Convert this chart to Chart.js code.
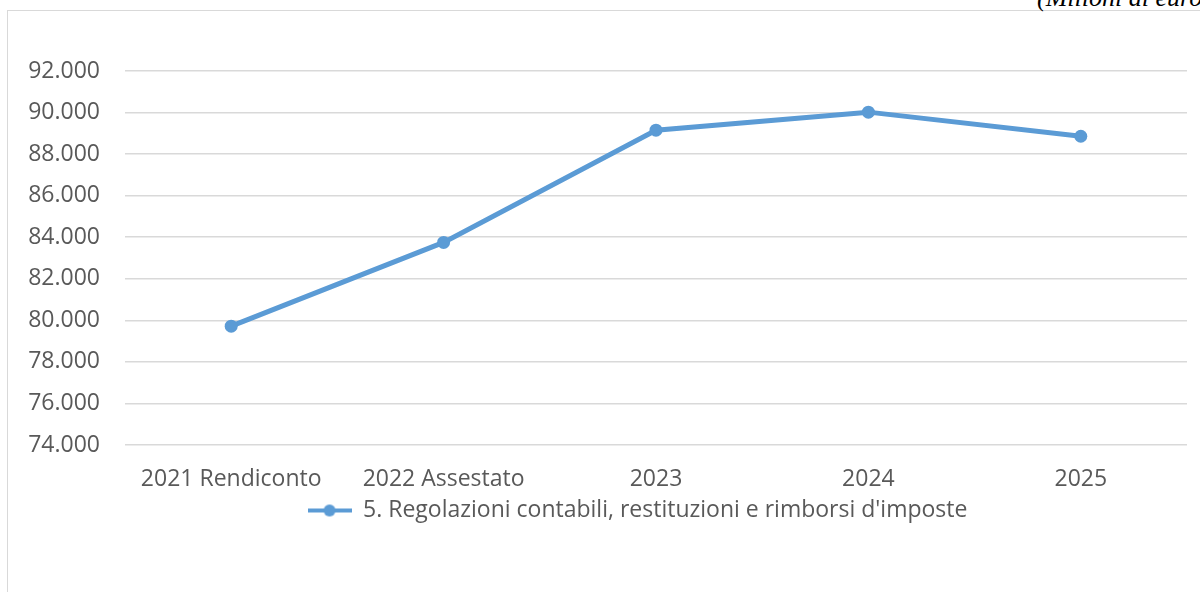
<!DOCTYPE html>
<html>
<head>
<meta charset="utf-8">
<script src="https://cdn.jsdelivr.net/npm/chart.js@4"></script>
<style>
  body { margin: 0; background: #fff; overflow: hidden; }
  #wrap { position: relative; width: 1200px; height: 592px; overflow: hidden; }
  .frame { position: absolute; left: 7px; top: 10px; width: 1300px; height: 700px; border: 1px solid #d9d9d9; }
  .unit { position: absolute; left: 1037px; top: -15px; font: italic 26px/26px "Liberation Serif", serif; color: #000; white-space: nowrap; }
  canvas { position: absolute; left: 0; top: 0; }
</style>
</head>
<body>
<div id="wrap">
  <div class="frame"></div>
  <div class="unit">(Milioni di euro)</div>
  <canvas id="myLinea" width="1200" height="592"></canvas>
</div>
<script>
const categorie = ["2021 Rendiconto", "2022 Assestato", "2023", "2024", "2025"];
const valori = [79720, 83750, 89150, 90020, 88860];
const serieNome = "5. Regolazioni contabili, restituzioni e rimborsi d'imposte";
const yMin = 74000;
const yMax = 92000;
const yStep = 2000;

const blu = "#5B9BD5";
const grigio = "#595959";
const fontBase = "'Open Sans', 'Noto Sans', sans-serif";

/* icona legenda: linea con pallino */
const icona = document.createElement("canvas");
icona.width = 44;
icona.height = 14;
const ic = icona.getContext("2d");
ic.fillStyle = blu;
ic.fillRect(0, 5, 44, 4);
ic.beginPath();
ic.arc(22, 7, 6, 0, Math.PI * 2);
ic.fill();

// la legenda e' centrata sulla parte destra, come nell'originale
const spostaLegenda = {
  id: "spostaLegenda",
  afterLayout: (chart) => {
    chart.legend.left += 88;
  },
};

const ctx = document.getElementById("myLinea").getContext("2d");

new Chart(ctx, {
  type: "line",
  data: {
    labels: categorie,
    datasets: [
      {
        label: serieNome,
        data: valori,
        borderColor: blu,
        backgroundColor: blu,
        borderWidth: 5,
        pointRadius: 6.5,
        pointHoverRadius: 6.5,
        pointBorderWidth: 0,
        tension: 0,
      },
    ],
  },
  plugins: [spostaLegenda],
  options: {
    responsive: false,
    animation: false,
    layout: {
      padding: { left: 0, top: 71, right: 13, bottom: 60 },
    },
    plugins: {
      tooltip: { enabled: false },
      legend: {
        position: "bottom",
        labels: {
          usePointStyle: true,
          pointStyle: icona,
          pointStyleWidth: 44,
          color: grigio,
          font: { family: fontBase, size: 23 },
          padding: 4,
        },
      },
    },
    scales: {
      x: {
        offset: true,
        grid: { display: false, drawTicks: false, offset: true },
        border: { display: false },
        ticks: {
          color: grigio,
          font: { family: fontBase, size: 23 },
          padding: 21,
          maxRotation: 0,
        },
        afterFit: (scale) => {
          scale.height = 50;
        },
      },
      y: {
        min: yMin,
        max: yMax,
        grid: { color: "#d9d9d9", lineWidth: 1.5, drawTicks: false },
        border: { display: false },
        ticks: {
          stepSize: yStep,
          color: grigio,
          font: { family: fontBase, size: 23 },
          padding: 25,
          callback: (v) => v.toLocaleString("it-IT", { useGrouping: "always" }).replace(/,/g, "."),
        },
        afterFit: (scale) => {
          scale.width = 125;
        },
      },
    },
  },
});
</script>
</body>
</html>
